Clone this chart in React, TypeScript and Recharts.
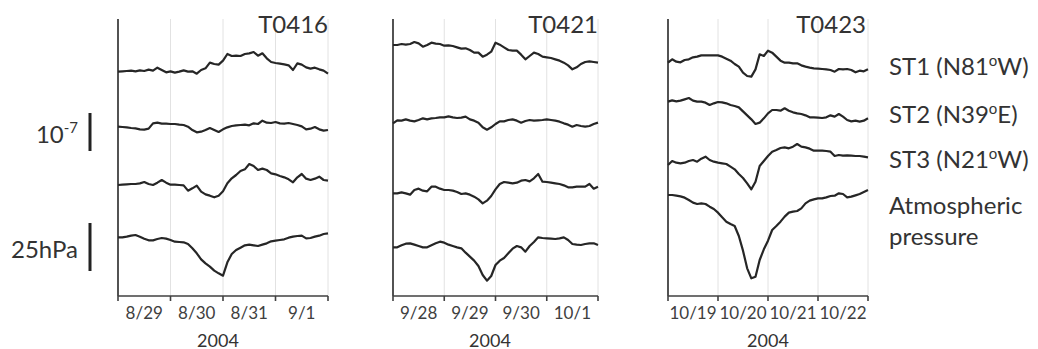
import React from 'react';
import { LineChart, Line, XAxis, YAxis, ReferenceLine } from 'recharts';

// time in hours since start of each panel (2-hour samples)
const hours = [0, 2, 4, 6, 8, 10, 12, 14, 16, 18, 20, 22, 24, 26, 28, 30, 32, 34, 36, 38, 40, 42, 44, 46, 48,
  50, 52, 54, 56, 58, 60, 62, 64, 66, 68, 70, 72, 74, 76, 78, 80, 82, 84, 86, 88, 90, 92, 94, 96];
const dayBounds = [24, 48, 72, 96];
const tickHours = [0, 12, 24, 36, 48, 60, 72, 84, 96];

// Typhoon T0416
const t0416Dates = ['8/29', '8/30', '8/31', '9/1'];
const t0416St1 = [675, 676, 677, 678, 676, 679, 677, 681, 678, 687, 680, 673, 676, 672, 675, 679, 675, 676, 669, 680, 685, 702, 698, 696, 708, 728, 722, 723, 722, 728, 730, 734, 723, 730, 715, 704, 701, 699, 697, 694, 680, 700, 696, 688, 684, 687, 682, 678, 669];
const t0416St2 = [510, 509, 508, 506, 505, 502, 501, 504, 520, 522, 519, 519, 518, 518, 516, 515, 510, 500, 493, 495, 500, 506, 500, 494, 502, 508, 512, 514, 515, 516, 514, 520, 518, 528, 522, 521, 524, 520, 519, 521, 518, 515, 511, 502, 504, 509, 502, 498, 500];
const t0416St3 = [335, 336, 337, 338, 338, 340, 344, 338, 335, 342, 350, 342, 336, 336, 335, 334, 318, 325, 333, 315, 307, 303, 298, 303, 316, 340, 355, 365, 377, 382, 398, 392, 380, 384, 380, 370, 367, 362, 358, 352, 343, 358, 368, 354, 350, 354, 360, 350, 348];
const t0416Pres = [178, 178, 180, 183, 185, 180, 174, 169, 169, 173, 176, 174, 170, 165, 164, 163, 158, 145, 130, 112, 100, 90, 78, 70, 63, 103, 128, 140, 147, 154, 156, 154, 152, 156, 160, 166, 168, 170, 172, 177, 180, 182, 183, 175, 176, 180, 183, 188, 190];

// Typhoon T0421
const t0421Dates = ['9/28', '9/29', '9/30', '10/1'];
const t0421St1 = [755, 755, 758, 756, 758, 764, 760, 750, 755, 762, 759, 758, 753, 754, 752, 748, 744, 745, 740, 732, 732, 720, 726, 735, 762, 756, 748, 740, 738, 738, 726, 712, 722, 732, 728, 720, 718, 716, 712, 708, 702, 694, 682, 688, 698, 704, 706, 704, 702];
const t0421St2 = [520, 529, 528, 532, 528, 526, 530, 535, 532, 535, 536, 538, 538, 541, 538, 536, 537, 540, 532, 528, 522, 508, 501, 508, 518, 526, 526, 530, 532, 528, 522, 527, 530, 528, 529, 530, 532, 530, 528, 525, 520, 516, 510, 515, 512, 510, 512, 518, 522];
const t0421St3 = [310, 310, 313, 310, 306, 320, 324, 318, 316, 330, 330, 324, 320, 320, 318, 314, 308, 310, 306, 300, 292, 280, 288, 302, 322, 338, 344, 342, 340, 342, 348, 350, 346, 355, 368, 345, 344, 342, 340, 338, 334, 328, 328, 330, 330, 330, 338, 324, 330];
const t0421Pres = [148, 148, 154, 159, 160, 156, 152, 148, 148, 154, 160, 165, 162, 156, 152, 148, 145, 132, 120, 108, 92, 65, 48, 62, 95, 108, 116, 130, 144, 152, 148, 135, 152, 164, 178, 176, 175, 174, 173, 175, 178, 170, 158, 156, 155, 158, 160, 160, 155];

// Typhoon T0423
const t0423Dates = ['10/19', '10/20', '10/21', '10/22'];
const t0423St1 = [702, 712, 705, 703, 710, 712, 718, 720, 724, 724, 724, 724, 724, 720, 714, 708, 698, 690, 672, 662, 660, 682, 727, 722, 738, 732, 720, 708, 702, 702, 700, 700, 694, 690, 687, 685, 684, 683, 682, 680, 675, 683, 682, 683, 680, 673, 678, 676, 682];
const t0423St2 = [585, 589, 586, 588, 592, 596, 588, 585, 585, 582, 575, 580, 584, 583, 580, 575, 572, 568, 556, 544, 532, 518, 522, 535, 550, 560, 560, 558, 565, 558, 553, 550, 548, 544, 538, 538, 537, 536, 538, 544, 540, 548, 540, 530, 526, 528, 525, 528, 535];
const t0423St3 = [395, 407, 402, 400, 402, 407, 410, 405, 414, 420, 410, 405, 402, 400, 398, 390, 382, 368, 356, 340, 322, 345, 392, 407, 422, 435, 440, 446, 448, 445, 450, 458, 450, 448, 444, 438, 438, 438, 437, 435, 422, 425, 423, 424, 423, 422, 422, 420, 418];
const t0423Pres = [305, 305, 303, 301, 297, 290, 282, 278, 280, 278, 270, 263, 252, 238, 225, 218, 212, 182, 138, 85, 55, 60, 110, 142, 168, 200, 212, 225, 240, 252, 255, 257, 265, 280, 288, 292, 295, 295, 298, 302, 303, 310, 308, 298, 300, 304, 308, 314, 320];

const FONT = 'Lato, "Open Sans", sans-serif';
const AXIS = '#404040';
const LINE = '#262626';
const TEXT = '#333333';

type PanelProps = {
  plotLeft: number;
  plotWidth: number;
  dates: string[];
  st1: number[];
  st2: number[];
  st3: number[];
  pres: number[];
};

function Panel({ plotLeft, plotWidth, dates, st1, st2, st3, pres }: PanelProps) {
  const data = hours.map((t, i) => ({ t, st1: st1[i], st2: st2[i], st3: st3[i], pres: pres[i] }));
  const ML = 4;
  const MR = 6;
  const renderTick = (p: any) => {
    const { x, y, payload } = p;
    const v = payload.value as number;
    if (v % 24 === 0) {
      return <line x1={x} x2={x} y1={y} y2={y + 5} stroke={AXIS} strokeWidth={1.6} />;
    }
    return (
      <text x={x} y={y + 23} textAnchor="middle" fontSize={17} fill={AXIS} fontFamily={FONT}>
        {dates[Math.floor(v / 24)]}
      </text>
    );
  };
  return (
    <div style={{ position: 'absolute', left: plotLeft - ML, top: 0 }}>
      <LineChart
        width={ML + plotWidth + MR}
        height={349}
        data={data}
        margin={{ top: 19, right: MR, bottom: 0, left: ML }}
      >
        <XAxis
          dataKey="t"
          type="number"
          domain={[0, 96]}
          ticks={tickHours}
          interval={0}
          tickLine={false}
          tickSize={0}
          tickMargin={0}
          height={53}
          axisLine={{ stroke: AXIS, strokeWidth: 1.6 }}
          tick={renderTick}
        />
        <YAxis type="number" domain={[2, 833]} allowDataOverflow hide />
        {dayBounds.map((d) => (
          <ReferenceLine key={d} x={d} stroke="#e2e2e2" strokeWidth={1} />
        ))}
        <ReferenceLine x={0} stroke={AXIS} strokeWidth={1.8} />
        {['st1', 'st2', 'st3', 'pres'].map((k) => (
          <Line
            key={k}
            type="linear"
            dataKey={k}
            stroke={LINE}
            strokeWidth={2.2}
            strokeLinejoin="round"
            dot={false}
            activeDot={false}
            isAnimationActive={false}
          />
        ))}
      </LineChart>
    </div>
  );
}

export default function App() {
  return (
    <div style={{ position: 'absolute', left: 0, top: 0, width: 1038, height: 349, background: '#fff', overflow: 'hidden' }}>
      <Panel plotLeft={118} plotWidth={210} dates={t0416Dates} st1={t0416St1} st2={t0416St2} st3={t0416St3} pres={t0416Pres} />
      <Panel plotLeft={393} plotWidth={205} dates={t0421Dates} st1={t0421St1} st2={t0421St2} st3={t0421St3} pres={t0421Pres} />
      <Panel plotLeft={668} plotWidth={200} dates={t0423Dates} st1={t0423St1} st2={t0423St2} st3={t0423St3} pres={t0423Pres} />
      <svg width={1038} height={349} style={{ position: 'absolute', left: 0, top: 0, pointerEvents: 'none' }} fontFamily={FONT}>
        <g fill={TEXT} fontSize={24} textAnchor="end">
          <text x={328} y={32.5}>T0416</text>
          <text x={598} y={32.5}>T0421</text>
          <text x={866} y={32.5}>T0423</text>
        </g>
        <g fill={TEXT} fontSize={18} textAnchor="middle">
          <text x={218} y={346.5}>2004</text>
          <text x={490} y={346.5}>2004</text>
          <text x={768} y={346.5}>2004</text>
        </g>
        <text x={78} y={142.5} fill={TEXT} fontSize={24} textAnchor="end">
          10<tspan fontSize={15} dy={-10}>-7</tspan>
        </text>
        <rect x={88.5} y={113} width={3} height={38} fill="#222" />
        <text x={78} y={258} fill={TEXT} fontSize={24} textAnchor="end">25hPa</text>
        <rect x={88.5} y={223} width={3} height={48} fill="#222" />
        <g fill={TEXT} fontSize={24}>
          <text x={889} y={75}>
            ST1 (N81<tspan fontSize={15} dy={-9}>o</tspan><tspan dy={9}>W)</tspan>
          </text>
          <text x={889} y={123}>
            ST2 (N39<tspan fontSize={15} dy={-9}>o</tspan><tspan dy={9}>E)</tspan>
          </text>
          <text x={889} y={168}>
            ST3 (N21<tspan fontSize={15} dy={-9}>o</tspan><tspan dy={9}>W)</tspan>
          </text>
          <text x={889} y={214}>Atmospheric</text>
          <text x={889} y={245}>pressure</text>
        </g>
      </svg>
    </div>
  );
}
